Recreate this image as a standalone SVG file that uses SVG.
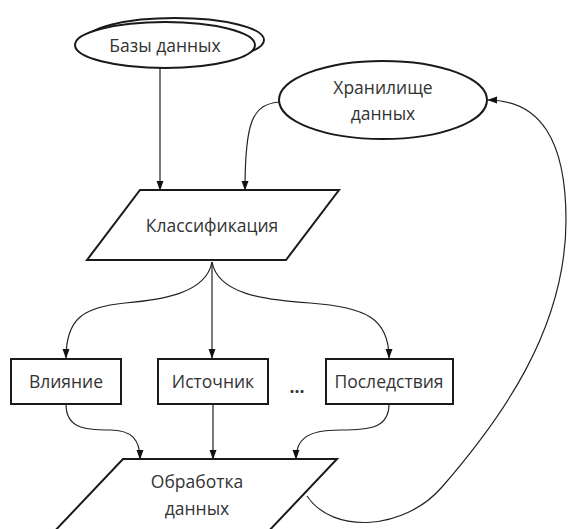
<svg xmlns="http://www.w3.org/2000/svg" width="568" height="529" viewBox="0 0 568 529">
<defs>
<marker id="ah" markerWidth="10" markerHeight="14" refX="13" refY="5" viewBox="0 0 14 10" orient="auto" markerUnits="userSpaceOnUse">
<path d="M0,0 L14,5 L0,10 Z" fill="#111"/>
</marker>
<style>
.shape{fill:#fff;stroke:#1a1a1a;stroke-width:2}
.conn{fill:none;stroke:#222;stroke-width:1.2;marker-end:url(#ah)}
text{font-family:"Open Sans","Noto Sans","DejaVu Sans",sans-serif;font-size:17.5px;fill:#333;text-anchor:middle}
</style>
</defs>
<rect width="568" height="529" fill="#fff"/>
<g id="connectors">
<path class="conn" d="M160,68 L160,190"/>
<path class="conn" d="M280,102 C252,104 245,122 245,190"/>
<path class="conn" d="M212,262 C206,294 160,300 125,303 C84,307 66,318 66,358"/>
<path class="conn" d="M212,262 L212,358"/>
<path class="conn" d="M212,262 C218,294 264,300 310,303 C365,307 389,318 389,358"/>
<path class="conn" d="M66,404 C66,428 84,430 110,430 C132,430 140,440 140,459"/>
<path class="conn" d="M213,404 L213,459"/>
<path class="conn" d="M389,404 C389,428 370,430 340,430 C306,430 296,440 296,459"/>
<path class="conn" d="M307,496 C333,535 405,530 442,487 C500,420 566,330 566,220 C566,140 540,100 488,100"/>
</g>
<g id="bazy">
<ellipse class="shape" cx="175" cy="40" rx="89" ry="22"/>
<ellipse class="shape" cx="165" cy="45" rx="90" ry="23"/>
<text x="165" y="52">Базы данных</text>
</g>
<g id="hranilische">
<ellipse class="shape" cx="383" cy="100" rx="104" ry="39"/>
<text x="383" y="94">Хранилище</text>
<text x="383" y="120">данных</text>
</g>
<g id="klassifikaciya">
<polygon class="shape" points="140,190 339,190 286,260 87,260"/>
<text x="212" y="232">Классификация</text>
</g>
<g id="vliyanie">
<rect class="shape" x="11" y="359" width="110" height="45"/>
<text x="66" y="388">Влияние</text>
</g>
<g id="istochnik">
<rect class="shape" x="158" y="359" width="110" height="45"/>
<text x="213" y="388">Источник</text>
</g>
<g id="dots">
<text x="297" y="393" style="font-weight:bold">...</text>
</g>
<g id="posledstviya">
<rect class="shape" x="326" y="359" width="127" height="45"/>
<text x="389" y="388">Последствия</text>
</g>
<g id="obrabotka">
<polygon class="shape" points="123,459 337,459 265,535 51,535"/>
<text x="197" y="488">Обработка</text>
<text x="197" y="515">данных</text>
</g>
</svg>
